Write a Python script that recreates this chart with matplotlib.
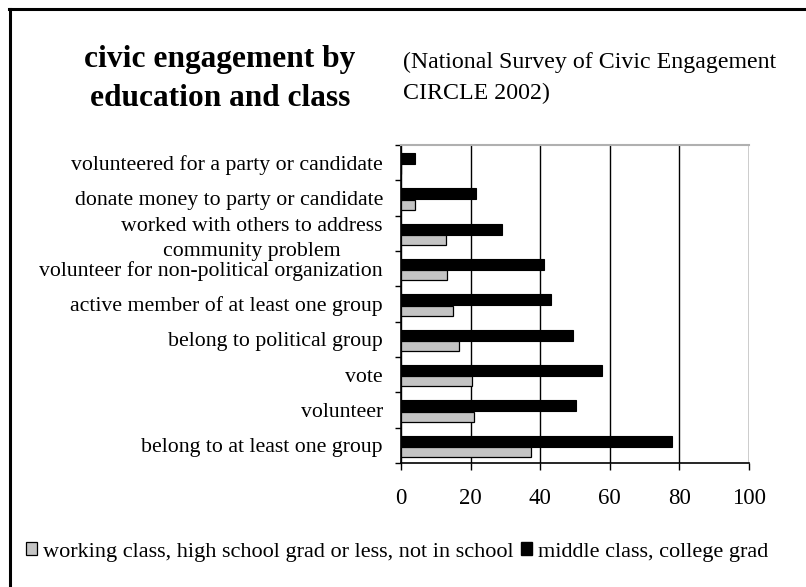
import numpy as np
import matplotlib
matplotlib.use('Agg')
import matplotlib.pyplot as plt
from matplotlib.lines import Line2D
from matplotlib.patches import Patch

plt.rcParams['font.family'] = ['Liberation Serif', 'DejaVu Serif']

# categories listed bottom to top
categories = ['belong to at least one group', 'volunteer', 'vote',
              'belong to political group', 'active member of at least one group',
              'volunteer for non-political organization',
              'worked with others to address\ncommunity problem',
              'donate money to party or candidate',
              'volunteered for a party or candidate']
working = [37.3, 21, 20.3, 16.8, 15, 13.3, 13, 4, 0]
middle = [77.8, 50.2, 57.7, 49.5, 43, 41, 29, 21.5, 4]
series_names = ['working class, high school grad or less, not in school',
                'middle class, college grad']
xticks = [0, 20, 40, 60, 80, 100]

W, H = 806, 587
fig = plt.figure(figsize=(W / 100, H / 100), dpi=100)
fig.patch.set_facecolor('white')

# axes placed in pixel units
x0, x1, y0, y1 = 401, 749, 145, 463
ax = fig.add_axes([x0 / W, 1 - y1 / H, (x1 - x0) / W, (y1 - y0) / H])

y = np.arange(len(categories))
ax.barh(y + 0.12, middle, height=0.31, color='black', edgecolor='black', linewidth=0.8, zorder=3)
ax.barh(y - 0.19, working, height=0.28, color='#c4c4c4', edgecolor='black', linewidth=0.9, zorder=3)

ax.set_xlim(0, 100)
ax.set_ylim(-0.5, len(categories) - 0.5)
ax.set_xticks(xticks)
ax.set_xticklabels([str(t) for t in xticks], fontsize=16.5)
ax.xaxis.grid(True, color='black', linewidth=1.0)
ax.set_axisbelow(True)

ax.set_yticks(y)
ax.set_yticklabels(categories, fontsize=15.7, multialignment='center', linespacing=1.45)
ax.set_yticks(np.arange(-0.5, len(categories), 1), minor=True)
ax.tick_params(axis='y', which='major', length=0, pad=13)
ax.tick_params(axis='y', which='minor', length=4, width=1, direction='out')
ax.tick_params(axis='x', length=5, width=1, direction='out', pad=13)

ax.spines['top'].set_color('#b0b0b0')
ax.spines['top'].set_linewidth(1.5)
ax.spines['right'].set_visible(False)
ax.spines['left'].set_linewidth(1.2)
ax.spines['bottom'].set_linewidth(1.2)

fig.text(220 / W, 1 - 79 / H, 'civic engagement by\neducation and class',
         ha='center', va='center', fontsize=22.6, fontweight='bold', linespacing=1.42)
fig.text(403 / W, 1 - 78 / H, '(National Survey of Civic Engagement\nCIRCLE 2002)',
         ha='left', va='center', fontsize=17.2, linespacing=1.6)

handles = [Patch(facecolor='#c4c4c4', edgecolor='black', linewidth=0.9),
           Patch(facecolor='black', edgecolor='black')]
fig.legend(handles, series_names, loc='center', bbox_to_anchor=(397 / W, 1 - 552 / H),
           ncol=2, frameon=False, fontsize=16, handlelength=0.5, handleheight=0.5,
           handletextpad=0.25, columnspacing=0.35)

# frame around the figure
fig.add_artist(Line2D([10 / W, 10 / W], [0, 1 - 9 / H], color='black', linewidth=2.2))
fig.add_artist(Line2D([9 / W, 1], [1 - 9 / H, 1 - 9 / H], color='black', linewidth=2.2))

fig.savefig('out.png', dpi=100)
